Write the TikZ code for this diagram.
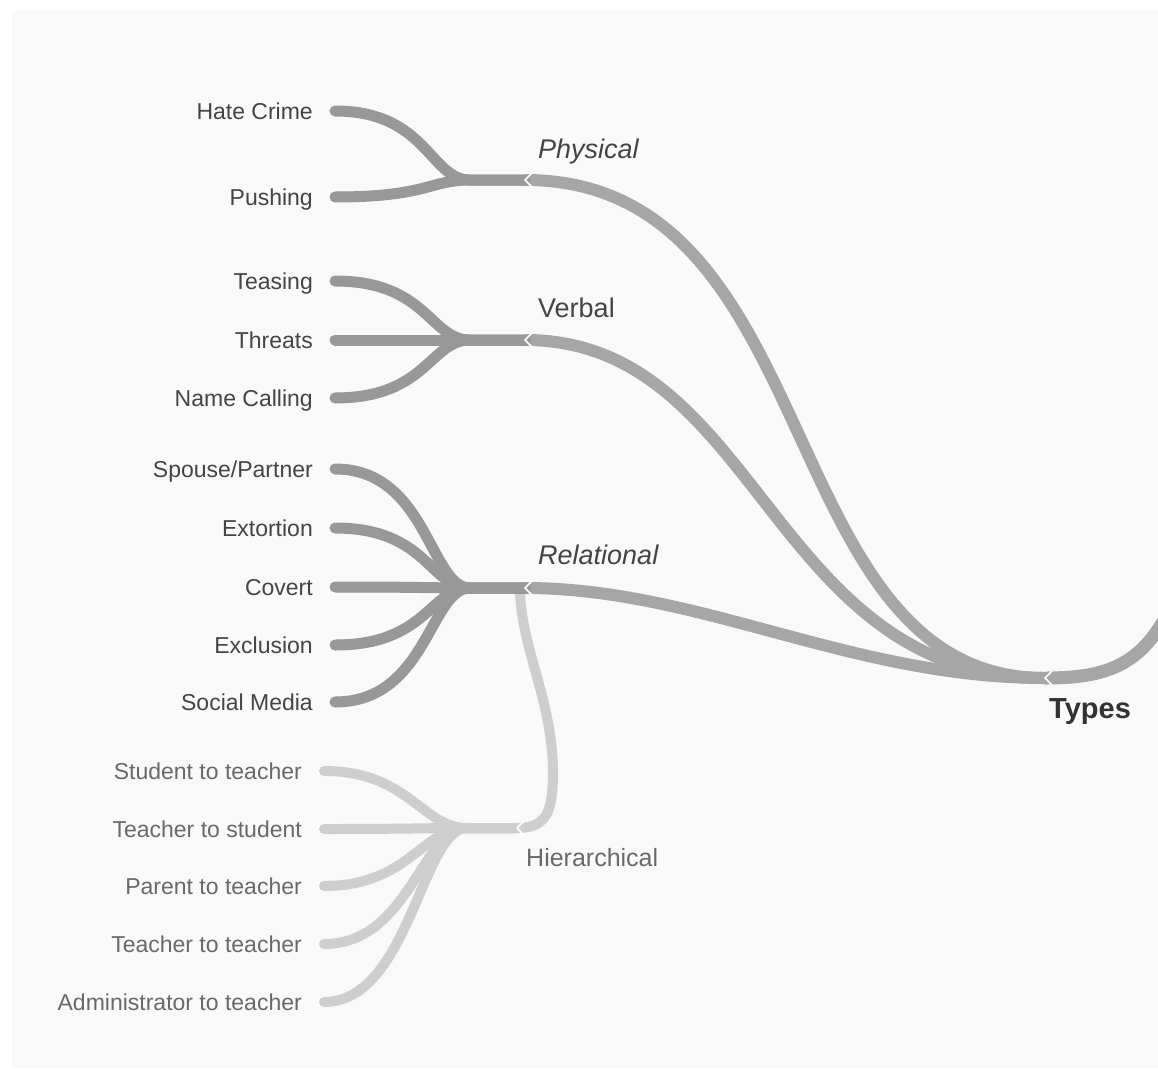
\documentclass[tikz,border=0pt]{standalone}
\usepackage{fontspec}
\setmainfont{Liberation Sans}
\usetikzlibrary{positioning, calc}

\definecolor{paper}{RGB}{249,249,249}
\definecolor{twigline}{RGB}{152,152,152}
\definecolor{branchline}{RGB}{166,166,166}
\definecolor{hierline}{RGB}{206,206,206}
\definecolor{leaftext}{RGB}{68,68,68}
\definecolor{hiertext}{RGB}{105,105,105}
\definecolor{roottext}{RGB}{50,50,50}

\begin{document}
\begin{tikzpicture}[x=1pt,y=-1pt,
  leaf/.style={anchor=east, inner sep=0pt, text height=21pt, text depth=4pt,
    text=leaftext, font=\fontsize{23}{27}\selectfont},
  hleaf/.style={leaf, text=hiertext},
  topic/.style={anchor=west, inner sep=0pt, text height=19pt, text depth=6pt,
    text=leaftext, font=\fontsize{27}{31}\selectfont},
  twig/.style={draw=twigline, line width=11pt, line cap=round},
  htwig/.style={twig, draw=hierline, line width=10pt},
  branch/.style={draw=branchline, line width=12pt},
  notch/.style={draw=white, line width=1.6pt}]
\useasboundingbox (0,0) rectangle (1158,1070);
\fill[paper] (12,10) rectangle (1158,1068);
\begin{scope}
\clip (12,10) rectangle (1158,1068);

% junction points
\coordinate (types) at (1045,678);
\coordinate (phys) at (525,180);
\coordinate (verb) at (525,340);
\coordinate (rel) at (525,588);
\coordinate (hier) at (517,828);

% root line coming in from the right
\draw[branch, line width=13pt] (types) .. controls (1110,678) and (1150,665) .. (1180,585);

% main branches
\draw[branch] (phys) .. controls (830,180) and (770,678) .. (types);
\draw[branch] (verb) .. controls (760,340) and (770,678) .. (types);
\draw[branch] (rel) .. controls (700,588) and (850,678) .. (types);
\draw[htwig, line cap=butt] (hier) .. controls (548,828) and (553,810) .. (553,770)
  .. controls (552,700) and (522,650) .. (520,592);

% leaves
\foreach \name/\txt/\y/\j in {hate/Hate Crime/111/phys, push/Pushing/197/phys,
    teas/Teasing/281/verb, thre/Threats/340/verb, name/Name Calling/398/verb,
    spou/Spouse\slash Partner/469/rel, exto/Extortion/528/rel, cove/Covert/587/rel,
    excl/Exclusion/645/rel, soci/Social Media/702/rel} {
  \node[leaf] (\name) at (313,\y) {\txt};
  \draw[twig] ([xshift=22pt]\name.east) .. controls +(92,0) and ($(\j)+(-95,0)$)
    .. ($(\j)+(-55,0)$) -- (\j);
}
\foreach \name/\txt/\y in {stut/Student to teacher/771, tstu/Teacher to student/829,
    part/Parent to teacher/886, ttea/Teacher to teacher/944,
    admt/Administrator to teacher/1002} {
  \node[hleaf] (\name) at (302,\y) {\txt};
  \draw[htwig] ([xshift=22pt]\name.east) .. controls +(85,0) and ($(hier)+(-95,0)$)
    .. ($(hier)+(-50,0)$) -- (hier);
}

% white notches at the joins
\foreach \p in {phys, verb, rel, hier, types}
  \draw[notch] ($(\p)+(7,-7)$) -- (\p) -- ($(\p)+(7,7)$);
\end{scope}

% labels
\node[topic] (physlbl) at (538,152) {\itshape Physical};
\node[topic] (verblbl) at (538,311) {Verbal};
\node[topic] (rellbl) at (538,558) {\itshape Relational};
\node[topic, text=hiertext, font=\fontsize{25}{29}\selectfont] (hierlbl) at (526,860) {Hierarchical};
\node[topic, text=roottext, font=\fontsize{29}{33}\selectfont\bfseries] (typeslbl) at (1049,712) {Types};
\end{tikzpicture}
\end{document}
